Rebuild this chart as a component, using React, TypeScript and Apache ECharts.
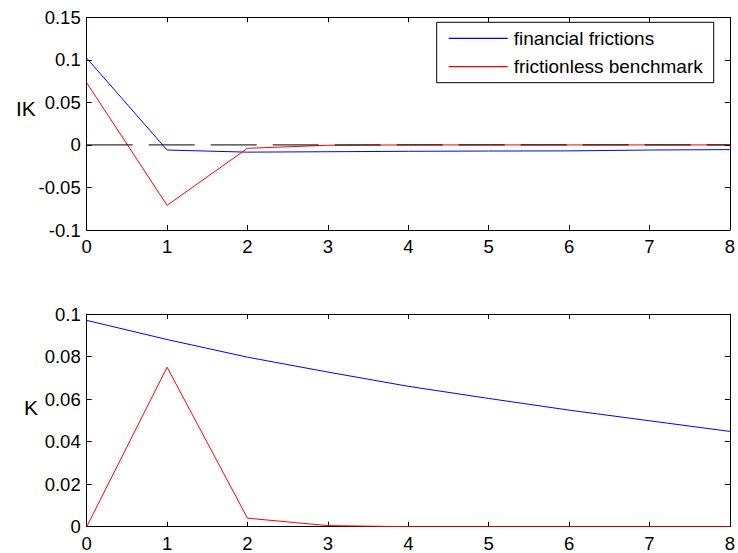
import React, { useEffect, useRef } from "react";
import * as echarts from "echarts";

const periods = [0, 1, 2, 3, 4, 5, 6, 7, 8];
const ikFinancial = [0.102, -0.006, -0.0085, -0.008, -0.0075, -0.0072, -0.007, -0.006, -0.0055];
const ikFrictionless = [0.073, -0.071, -0.004, -0.0004, 0, 0, 0, 0, 0];
const kFinancial = [0.097, 0.088, 0.0797, 0.0727, 0.066, 0.0603, 0.0548, 0.0498, 0.0448];
const kFrictionless = [0, 0.075, 0.004, 0.0005, 0, 0, 0, 0, 0];
const zeroLine = [0, 0];
const zeroX = [0, 8];
const seriesNames = ["financial frictions", "frictionless benchmark"];

const FONT = "Liberation Sans, Arial, sans-serif";

const pairs = (ys: number[]) => ys.map((y, i) => [periods[i], y]);

const fmt = (v: number) => String(+v.toFixed(4));

export default function App() {
  const ref = useRef<HTMLDivElement>(null);
  useEffect(() => {
    if (!ref.current) return;
    const chart = echarts.init(ref.current, undefined, { renderer: "svg" });
    const gridH = 212.7;
    const baseX = (gi: number, pos: "bottom" | "top") => ({
      type: "value",
      gridIndex: gi,
      position: pos,
      min: 0,
      max: 8,
      interval: 1,
      axisLine: { show: true, onZero: false, lineStyle: { color: "#000", width: 1 } },
      axisTick: { show: true, inside: true, length: 5, lineStyle: { color: "#000" } },
      axisLabel: {
        show: pos === "bottom",
        color: "#000",
        fontFamily: FONT,
        fontSize: 18.5,
        margin: 7,
      },
      splitLine: { show: false },
    });
    const baseY = (gi: number, pos: "left" | "right", min: number, max: number, interval: number) => ({
      type: "value",
      gridIndex: gi,
      position: pos,
      min,
      max,
      interval,
      axisLine: { show: true, onZero: false, lineStyle: { color: "#000", width: 1 } },
      axisTick: { show: true, inside: true, length: 5, lineStyle: { color: "#000" } },
      axisLabel: {
        show: pos === "left",
        color: "#000",
        fontFamily: FONT,
        fontSize: 18.5,
        margin: 6,
        formatter: fmt,
      },
      splitLine: { show: false },
    });
    const lineSeries = (name: string | undefined, data: number[][], color: string, xi: number, yi: number, z = 3) => ({
      type: "line",
      name,
      data,
      xAxisIndex: xi,
      yAxisIndex: yi,
      symbol: "none",
      lineStyle: { color, width: 1 },
      itemStyle: { color },
      z,
    });
    chart.setOption({
      animation: false,
      backgroundColor: "#fff",
      grid: [
        { left: 86.7, right: 7.3, top: 17.3, height: gridH },
        { left: 86.7, right: 7.3, top: 314, height: gridH },
      ],
      xAxis: [baseX(0, "bottom"), baseX(0, "top"), baseX(1, "bottom"), baseX(1, "top")],
      yAxis: [
        baseY(0, "left", -0.1, 0.15, 0.05),
        baseY(0, "right", -0.1, 0.15, 0.05),
        baseY(1, "left", 0, 0.1, 0.02),
        baseY(1, "right", 0, 0.1, 0.02),
      ],
      legend: {
        data: seriesNames,
        orient: "vertical",
        left: 436.7,
        top: 22.3,
        padding: [6, 11, 6, 12],
        icon: "rect",
        itemWidth: 59,
        itemHeight: 1.2,
        itemGap: 8.4,
        borderColor: "#000",
        borderWidth: 1,
        backgroundColor: "#fff",
        textStyle: { color: "#000", fontFamily: FONT, fontSize: 19, lineHeight: 20, padding: [0, 0, 0, 1] },
        selectedMode: false,
      },
      graphic: [
        {
          type: "text",
          left: 16,
          top: 98,
          style: { text: "IK", fontFamily: FONT, fontSize: 21, fill: "#000" },
        },
        {
          type: "text",
          left: 24,
          top: 397,
          style: { text: "K", fontFamily: FONT, fontSize: 21, fill: "#000" },
        },
      ],
      series: [
        lineSeries(seriesNames[0], pairs(ikFinancial), "#0000ff", 0, 0, 3),
        lineSeries(seriesNames[1], pairs(ikFrictionless), "#ff0000", 0, 0, 3),
        {
          type: "line",
          data: zeroX.map((x, i) => [x, zeroLine[i]]),
          xAxisIndex: 0,
          yAxisIndex: 0,
          symbol: "none",
          silent: true,
          lineStyle: { color: "#000", width: 1, type: [46, 16] },
          z: 4,
        },
        lineSeries(seriesNames[0], pairs(kFinancial), "#0000ff", 2, 2, 3),
        lineSeries(seriesNames[1], pairs(kFrictionless), "#ff0000", 2, 2, 3),
      ],
    });
    return () => chart.dispose();
  }, []);
  return (
    <div
      ref={ref}
      style={{ width: 738, height: 553, position: "absolute", left: 0, top: 0, background: "#fff" }}
    />
  );
}
